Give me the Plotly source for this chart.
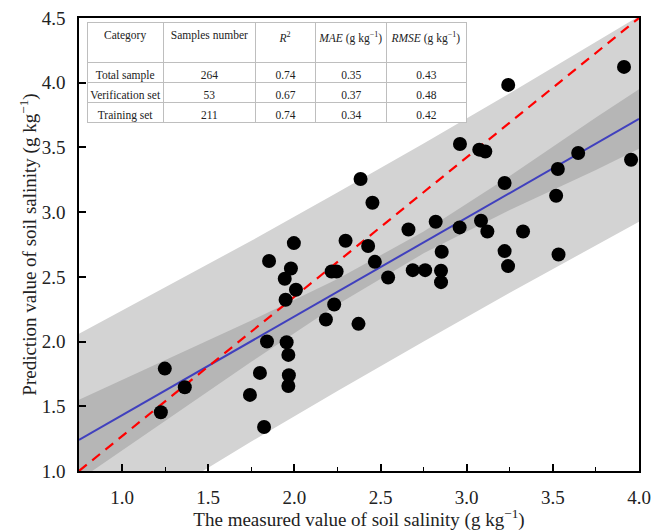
import plotly.graph_objects as go

# ---- data ----
measured = [1.225, 1.248, 1.364, 1.742, 1.800, 1.824, 1.841, 1.853, 1.944, 1.949,
            1.955, 1.965, 1.968, 1.965, 1.980, 1.997, 2.009, 2.183, 2.231, 2.216,
            2.245, 2.297, 2.372, 2.384, 2.428, 2.453, 2.467, 2.544, 2.662, 2.687,
            2.759, 2.820, 2.851, 2.851, 2.855, 2.961, 2.959, 3.073, 3.108, 3.083,
            3.120, 3.220, 3.220, 3.240, 3.241, 3.327, 3.519, 3.529, 3.533, 3.647,
            3.913, 3.954]
predicted = [1.454, 1.791, 1.647, 1.588, 1.758, 1.340, 2.000, 2.622, 2.485, 2.323,
             1.995, 1.897, 1.740, 1.657, 2.565, 2.761, 2.400, 2.170, 2.286, 2.541,
             2.541, 2.779, 2.137, 3.256, 2.738, 3.073, 2.616, 2.495, 2.866, 2.552,
             2.552, 2.926, 2.547, 2.459, 2.694, 3.527, 2.882, 3.483, 3.469, 2.933,
             2.851, 3.225, 2.699, 2.583, 3.983, 2.851, 3.127, 3.333, 2.673, 3.457,
             4.122, 3.405]

fit_x = [0.75, 4.0]
fit_y = [1.240, 3.720]

ref_x = [0.75, 4.0]
ref_y = [1.0, 4.5]

band_x = [0.75, 1.25, 1.75, 2.25, 2.75, 3.25, 3.75, 4.0]
ci_upper = [1.550, 1.855, 2.162, 2.483, 2.850, 3.280, 3.732, 3.950]
ci_lower = [0.930, 1.389, 1.844, 2.287, 2.682, 3.016, 3.326, 3.490]
pi_upper = [2.060, 2.417, 2.779, 3.151, 3.531, 3.919, 4.316, 4.514]
pi_lower = [0.420, 0.827, 1.227, 1.619, 2.001, 2.377, 2.742, 2.926]

x_ticks = [1.0, 1.5, 2.0, 2.5, 3.0, 3.5, 4.0]
y_ticks = [1.0, 1.5, 2.0, 2.5, 3.0, 3.5, 4.0, 4.5]

NB = "\u00a0"
tbl_header = ["Category", "Samples number", "<i>R</i><sup>2</sup>",
              "<i>MAE</i> (g kg<sup>−1</sup>)", "<i>RMSE</i> (g kg<sup>−1</sup>)"]
tbl_category = ["Total sample", "Verification set", "Training set"]
tbl_samples = ["264", "53", "211"]
tbl_r2 = ["0.74", "0.67", "0.74"]
tbl_mae = ["0.35", "0.37", "0.34"]
tbl_rmse = ["0.43", "0.48", "0.42"]


def nbsp(items):
    return [s.replace(" ", NB) for s in items]


FONT = "Liberation Serif, Times New Roman, serif"

fig = go.Figure()

# prediction band (light)
fig.add_trace(go.Scatter(
    x=band_x + band_x[::-1], y=pi_upper + pi_lower[::-1],
    fill="toself", fillcolor="rgb(211,211,211)", line=dict(width=0),
    mode="lines", hoverinfo="skip", showlegend=False))
# confidence band (dark)
fig.add_trace(go.Scatter(
    x=band_x + band_x[::-1], y=ci_upper + ci_lower[::-1],
    fill="toself", fillcolor="rgb(182,182,182)", line=dict(width=0),
    mode="lines", hoverinfo="skip", showlegend=False))
# fit line
fig.add_trace(go.Scatter(x=fit_x, y=fit_y, mode="lines",
                         line=dict(color="rgb(64,64,190)", width=2),
                         showlegend=False))
# reference (diagonal) line
fig.add_trace(go.Scatter(x=ref_x, y=ref_y, mode="lines",
                         line=dict(color="rgb(255,0,0)", width=2.2, dash="10px,7px"),
                         showlegend=False))
# points
fig.add_trace(go.Scatter(x=measured, y=predicted, mode="markers",
                         marker=dict(color="black", size=14, line=dict(width=0)),
                         showlegend=False))

# table
fig.add_trace(go.Table(
    domain=dict(x=[0.0143, 0.692], y=[0.765, 0.991]),
    columnwidth=[76, 92, 60, 71, 79],
    header=dict(values=nbsp(tbl_header), height=40, align="center",
                fill_color="white", line_color="rgb(190,190,190)",
                font=dict(family=FONT, size=11.5, color="#222")),
    cells=dict(values=[nbsp(tbl_category), tbl_samples, tbl_r2, tbl_mae, tbl_rmse],
               height=20, align="center", fill_color="white",
               line_color="rgb(190,190,190)",
               font=dict(family=FONT, size=11.5, color="#222")),
))

axis_common = dict(showline=True, linecolor="black", linewidth=1.6, mirror=True,
                   ticks="inside", ticklen=7, tickwidth=1.5, tickcolor="black",
                   showgrid=False, zeroline=False, automargin=False,
                   ticklabeloverflow="allow",
                   tickfont=dict(family=FONT, size=19, color="#222"))

fig.update_xaxes(range=[0.75, 4.0], tickvals=x_ticks, tickformat=".1f",
                 ticklabelstandoff=8,
                 minor=dict(ticks="inside", ticklen=4, tickwidth=1.2, tickcolor="black", dtick=0.25, tick0=0.75),
                 title=dict(text="The measured value of soil salinity (g kg<sup>−1</sup>)",
                            font=dict(family=FONT, size=19, color="#222"), standoff=3),
                 **axis_common)
fig.update_yaxes(range=[1.0, 4.5], tickvals=y_ticks, tickformat=".1f",
                 ticklabelstandoff=8,
                 title=dict(text="Prediction value of soil salinity (g kg<sup>−1</sup>)",
                            font=dict(family=FONT, size=19, color="#222"), standoff=0),
                 **axis_common)

# the page body adds an 8px offset, so the figure is sized to fit inside it
fig.update_layout(width=659, height=523,
                  margin=dict(l=71, r=28, t=10, b=60, autoexpand=False),
                  paper_bgcolor="white", plot_bgcolor="white",
                  font=dict(family=FONT))

fig.write_html("out.html")
